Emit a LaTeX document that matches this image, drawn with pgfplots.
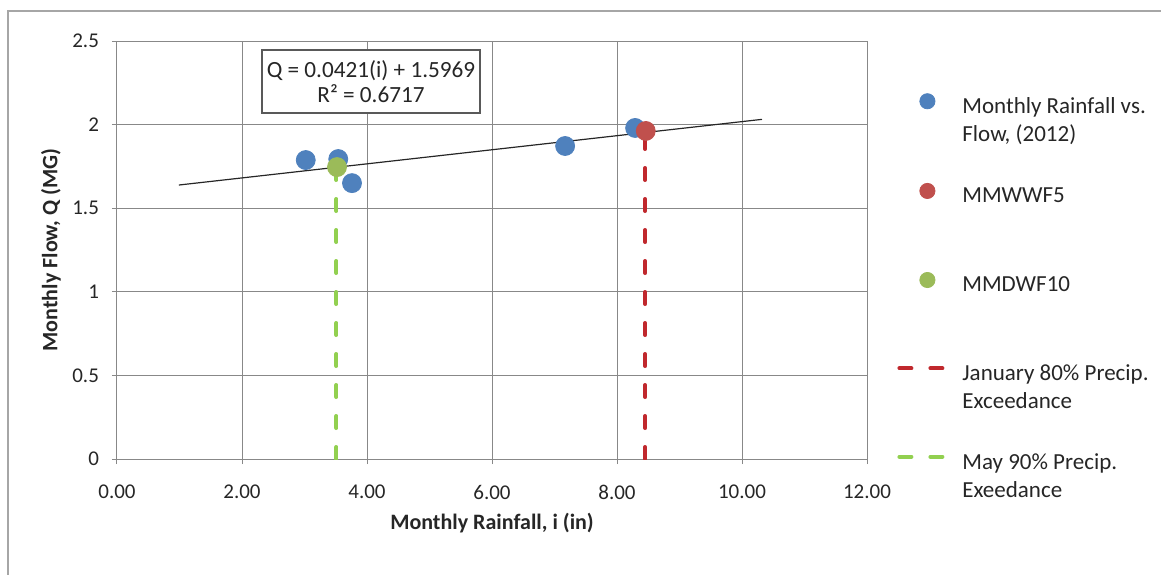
\documentclass[border=0pt]{standalone}
\usepackage{pgfplots}
\pgfplotsset{compat=1.18}
\usepackage{fontspec}
\setmainfont{Carlito}
\definecolor{xblue}{HTML}{4F81BD}
\definecolor{xred}{HTML}{C0504D}
\definecolor{xgreen}{HTML}{9BBB59}
\definecolor{dred}{HTML}{C0282D}
\definecolor{dgreen}{HTML}{92D050}
\definecolor{gridc}{HTML}{888888}
\pgfplotsset{
  markleg/.style={legend image code/.code={\draw[##1, yshift=3pt, mark size=3.8pt] plot coordinates {(15pt,0pt)};}},
  lineleg/.style={legend image code/.code={\path[draw=none, fill=none] (8pt,-0.3pt) -- (8pt,6.3pt);\draw[##1, yshift=3pt] (1pt,0pt) -- (22.5pt,0pt);}},
}
\begin{document}
\begin{tikzpicture}
\useasboundingbox (-58.5pt,-57.5pt) rectangle (522pt,229.5pt);
\draw[gray!70, line width=0.6pt] (-54.5pt,-80pt) -- (-54.5pt,224pt) -- (560pt,224pt);
\begin{axis}[
  at={(0,0)}, anchor=south west, scale only axis,
  width=375pt, height=209pt,
  xmin=0, xmax=12, ymin=0, ymax=2.5,
  xtick={0,2,4,6,8,10,12},
  ytick={0,0.5,1,1.5,2,2.5},
  xticklabels={0.00,2.00,4.00,6.00,8.00,10.00,12.00},
  yticklabels={0,0.5,1,1.5,2,2.5},
  axis lines*=left,
  grid=major,
  grid style={gridc, line width=0.5pt},
  axis line style={gridc, line width=0.5pt},
  tick style={gridc, line width=0.5pt},
  tick align=outside, major tick length=2.5pt,
  /pgf/number format/assume math mode=true,
  tick label style={font=\fontsize{10.5}{12}\selectfont, text=black!85},
  yticklabel style={xshift=-3pt},
  xticklabel style={yshift=-7pt},
  xlabel={Monthly Rainfall, i (in)},
  ylabel={Monthly Flow, Q (MG)},
  label style={font=\fontsize{11}{13}\selectfont\bfseries, text=black!85},
  xlabel style={at={(axis description cs:0.5,0)}, anchor=center, yshift=-32pt},
  ylabel style={at={(axis description cs:0,0.5)}, anchor=center, yshift=33pt},
  legend style={at={(1.04,0.875)}, anchor=north west, draw=none, fill=none,
    inner sep=0pt, row sep=33.3pt, column sep=9pt, nodes={inner sep=0pt},
    cells={anchor=base west}, font=\fontsize{11.5}{14}\selectfont, text=black!85},
  legend cell align=left,
]
% dashed exceedance lines (drawn first, under the markers)
\addplot[forget plot, dred, line width=2pt, line cap=round, dash pattern=on 6pt off 9.5pt]
  coordinates {(8.45,0) (8.45,1.96)};
\addplot[forget plot, dgreen, line width=2pt, line cap=round, dash pattern=on 6pt off 9.5pt]
  coordinates {(3.51,0) (3.51,1.746)};
% scatter series
\addplot[only marks, mark=*, mark size=4.75pt, xblue, mark options={draw=xblue, fill=xblue}, markleg]
  coordinates {(3.02,1.788) (3.54,1.794) (3.76,1.650) (7.17,1.872) (8.29,1.980)};
\addlegendentry{\parbox[t]{110pt}{Monthly Rainfall vs.\\Flow, (2012)}}
\addplot[only marks, mark=*, mark size=4.75pt, xred, mark options={draw=xred, fill=xred}, markleg]
  coordinates {(8.46,1.962)};
\addlegendentry{\parbox[t]{110pt}{MMWWF5\\\mbox{}}}
\addplot[only marks, mark=*, mark size=4.75pt, xgreen, mark options={draw=xgreen, fill=xgreen}, markleg]
  coordinates {(3.52,1.746)};
\addlegendentry{\parbox[t]{110pt}{MMDWF10\\\mbox{}}}
\addlegendimage{dred, line width=2pt, line cap=round, dash pattern=on 6pt off 9.5pt, lineleg}
\addlegendentry{\parbox[t]{110pt}{January 80\% Precip.\\Exceedance}}
\addlegendimage{dgreen, line width=2pt, line cap=round, dash pattern=on 6pt off 9.5pt, lineleg}
\addlegendentry{\parbox[t]{110pt}{May 90\% Precip.\\Exeedance}}
% linear trend line
\addplot[forget plot, black!85, line width=0.6pt] coordinates {(0.99,1.6386) (10.32,2.0314)};
\node[draw=black!65, fill=white, line width=0.7pt, align=center, minimum width=109pt,
  minimum height=31.5pt, inner sep=2pt, font=\fontsize{11.6}{12.5}\selectfont, text=black!85]
  at (axis cs:4.064,2.258) {Q = 0.0421(i) + 1.5969\\R² = 0.6717};
\end{axis}
\end{tikzpicture}
\end{document}
